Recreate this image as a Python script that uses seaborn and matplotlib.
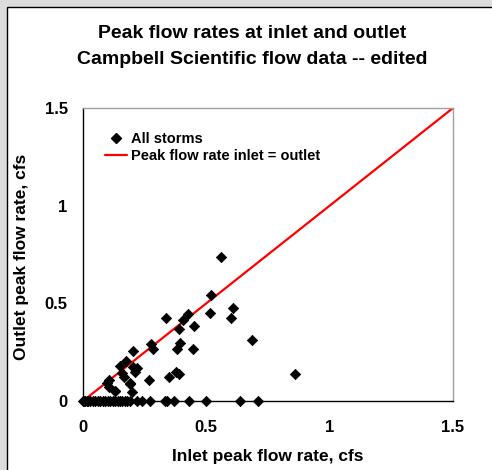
import matplotlib
matplotlib.use("Agg")
import matplotlib.pyplot as plt
import seaborn as sns
import pandas as pd
from matplotlib.patches import Rectangle
from matplotlib.lines import Line2D

# Storm peak flows (cfs) - inlet vs outlet
inlet = [0.561, 0.519, 0.608, 0.513, 0.599, 0.686, 0.858, 0.335, 0.426, 0.405,
         0.389, 0.449, 0.392, 0.381, 0.446, 0.274, 0.283, 0.203, 0.176, 0.150,
         0.204, 0.220, 0.209, 0.157, 0.165, 0.107, 0.104, 0.128, 0.192, 0.197,
         0.268, 0.350, 0.378, 0.388, 0.096, 0.131, 0.190,
         0.218, 0.238, 0.272, 0.332, 0.339, 0.370, 0.430, 0.497, 0.635, 0.708,
         0.0, 0.005, 0.01, 0.015, 0.02, 0.03, 0.04, 0.05, 0.06, 0.07, 0.08,
         0.09, 0.10, 0.11, 0.12, 0.13, 0.14, 0.15, 0.16, 0.17, 0.18, 0.19]
outlet = [0.739, 0.543, 0.476, 0.452, 0.425, 0.311, 0.138, 0.425, 0.445, 0.415,
          0.369, 0.386, 0.295, 0.265, 0.266, 0.290, 0.265, 0.256, 0.206, 0.179,
          0.176, 0.169, 0.150, 0.142, 0.124, 0.108, 0.073, 0.053, 0.085, 0.044,
          0.108, 0.124, 0.148, 0.136, 0.090, 0.051, 0.090,
          0.0, 0.0, 0.0, 0.0, 0.0, 0.0, 0.0, 0.0, 0.0, 0.0,
          0.0, 0.0, 0.0, 0.0, 0.0, 0.0, 0.0, 0.0, 0.0, 0.0, 0.0,
          0.0, 0.0, 0.0, 0.0, 0.0, 0.0, 0.0, 0.0, 0.0, 0.0, 0.0]
line_x = [0.0, 1.5]
line_y = [0.0, 1.5]
ticks = [0, 0.5, 1, 1.5]
tick_labels = ["0", "0.5", "1", "1.5"]

sns.set_theme(style="white")
plt.rcParams['font.family'] = ['Liberation Sans', 'DejaVu Sans']
plt.rcParams['font.weight'] = 'bold'
plt.rcParams['text.color'] = 'black'
plt.rcParams['axes.labelcolor'] = 'black'
plt.rcParams['xtick.color'] = 'black'
plt.rcParams['ytick.color'] = 'black'

fig = plt.figure(figsize=(4.92, 4.70), dpi=100, facecolor="#dcdcdc")
fig.patches.append(Rectangle((7/492, -0.01), 1.0, 1 - 7/470 + 0.01,
                             transform=fig.transFigure, facecolor="white",
                             edgecolor="black", linewidth=1.0, zorder=-5))
ax = fig.add_axes([83/492, 69/470, 370/492, 293/470])
ax.set_facecolor("white")

df = pd.DataFrame({"inlet": inlet, "outlet": outlet})
ax.plot(line_x, line_y, color="red", linewidth=1.6, zorder=2)
sns.scatterplot(data=df, x="inlet", y="outlet", marker="D", s=28, color="black",
                edgecolor="black", linewidth=0.5, ax=ax, zorder=3, clip_on=False)

ax.set_xlim(0, 1.5)
ax.set_ylim(0, 1.5)
ax.set_xticks(ticks)
ax.set_xticklabels(tick_labels)
ax.set_yticks(ticks)
ax.set_yticklabels(tick_labels)
ax.tick_params(axis="both", direction="out", length=4, width=1, color="black",
               labelsize=12)
for lab in ax.get_xticklabels() + ax.get_yticklabels():
    lab.set_fontweight("bold")
ax.tick_params(axis="y", pad=7)
ax.tick_params(axis="x", pad=10)

for side in ["left", "bottom"]:
    ax.spines[side].set_color("black")
    ax.spines[side].set_linewidth(1.0)
for side in ["top", "right"]:
    ax.spines[side].set_color("#a0a0a0")
    ax.spines[side].set_linewidth(1.0)

ax.set_xlabel("Inlet peak flow rate, cfs", fontsize=12.5, fontweight="bold")
ax.set_ylabel("Outlet peak flow rate, cfs", fontsize=12.5, fontweight="bold")
ax.xaxis.set_label_coords(0.5, -(457 - 401) / 293, transform=ax.transAxes)
ax.xaxis.label.set_va("center")
ax.yaxis.set_label_coords(-(83 - 22) / 370, (401 - 257) / 293, transform=ax.transAxes)
ax.yaxis.label.set_va("center")

fig.text(252/492, 1 - 33/470, "Peak flow rates at inlet and outlet", ha="center", va="center",
         fontsize=14, fontweight="bold")
fig.text(252/492, 1 - 59/470, "Campbell Scientific flow data -- edited", ha="center", va="center",
         fontsize=14, fontweight="bold")

handles = [Line2D([], [], marker="D", color="black", linestyle="none", markersize=5),
           Line2D([], [], color="red", linewidth=1.6)]
ax.legend(handles, ["All storms", "Peak flow rate inlet = outlet"], loc="upper left",
          bbox_to_anchor=(0.035, 0.948), frameon=False, handlelength=1.5,
          handletextpad=0.3, labelspacing=0.2, borderaxespad=0.2,
          prop={"weight": "bold", "size": 10.5})

fig.savefig("out.png", dpi=100, facecolor=fig.get_facecolor())
